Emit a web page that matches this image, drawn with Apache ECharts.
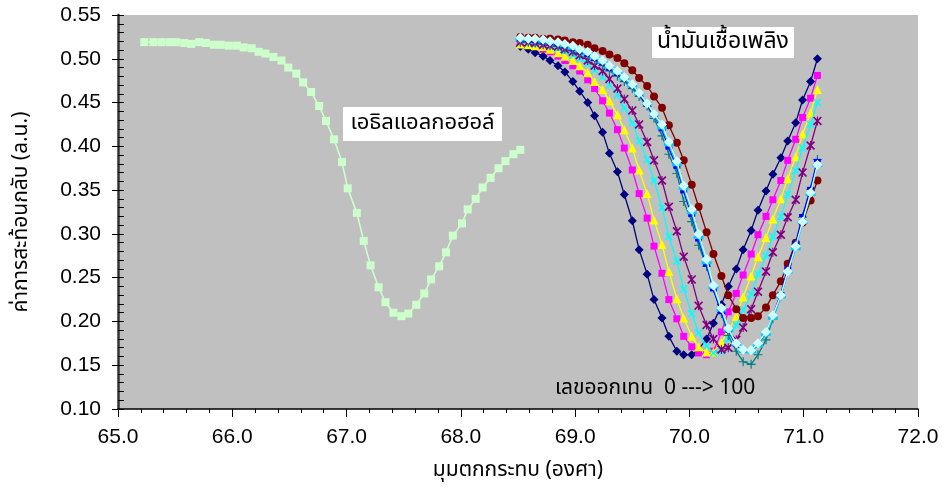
<!DOCTYPE html>
<html>
<head>
<meta charset="utf-8">
<script src="https://cdn.jsdelivr.net/npm/echarts@6/dist/echarts.min.js"></script>
<style>
  html, body { margin: 0; padding: 0; background: #fff; }
  #chart { width: 944px; height: 490px; }
</style>
</head>
<body>
<div id="chart"></div>
<script>
// Ethyl alcohol reflectance curve (angle in degrees, reflectance a.u.)
const ethanolAngle = [65.23,65.31,65.38,65.45,65.51,65.58,65.64,65.71,65.77,65.84,65.90,65.97,66.04,66.10,66.17,66.23,66.29,66.36,66.43,66.49,66.56,66.62,66.69,66.76,66.82,66.89,66.96,67.01,67.09,67.15,67.21,67.28,67.34,67.41,67.48,67.54,67.61,67.68,67.74,67.81,67.87,67.93,68.01,68.06,68.13,68.19,68.26,68.33,68.39,68.46,68.52];
const ethanolRefl = [0.519,0.519,0.519,0.519,0.519,0.518,0.517,0.519,0.518,0.516,0.516,0.515,0.515,0.513,0.512,0.508,0.506,0.502,0.498,0.490,0.483,0.473,0.462,0.446,0.429,0.408,0.382,0.352,0.324,0.292,0.264,0.239,0.222,0.210,0.206,0.209,0.219,0.232,0.248,0.263,0.279,0.298,0.312,0.328,0.340,0.353,0.364,0.375,0.383,0.391,0.396];

// Fuel samples, all measured on the same angle grid
const fuelAngle = [68.52,68.59,68.65,68.72,68.78,68.85,68.91,68.98,69.04,69.11,69.17,69.24,69.30,69.37,69.43,69.50,69.56,69.63,69.69,69.76,69.82,69.89,69.95,70.02,70.08,70.15,70.21,70.28,70.34,70.41,70.47,70.54,70.60,70.67,70.73,70.80,70.86,70.93,70.99,71.06,71.12];
const fuel1 = [0.514,0.511,0.507,0.503,0.498,0.492,0.485,0.474,0.463,0.450,0.435,0.416,0.392,0.371,0.345,0.315,0.282,0.254,0.225,0.204,0.183,0.166,0.162,0.162,0.168,0.180,0.198,0.219,0.240,0.260,0.282,0.304,0.327,0.349,0.368,0.387,0.406,0.427,0.453,0.474,0.500];
const fuel2 = [0.518,0.516,0.514,0.511,0.508,0.503,0.498,0.492,0.486,0.476,0.466,0.452,0.438,0.419,0.398,0.373,0.346,0.318,0.286,0.255,0.225,0.203,0.183,0.171,0.164,0.162,0.166,0.188,0.211,0.232,0.253,0.277,0.299,0.320,0.339,0.361,0.384,0.408,0.433,0.455,0.481];
const fuel3 = [0.517,0.516,0.515,0.514,0.511,0.507,0.503,0.498,0.492,0.484,0.474,0.465,0.452,0.436,0.419,0.398,0.373,0.346,0.316,0.288,0.257,0.226,0.204,0.183,0.171,0.165,0.165,0.176,0.189,0.206,0.228,0.252,0.274,0.296,0.317,0.340,0.363,0.388,0.414,0.438,0.465];
const fuel4 = [0.519,0.518,0.517,0.516,0.514,0.512,0.509,0.504,0.500,0.494,0.487,0.479,0.470,0.459,0.444,0.427,0.406,0.385,0.361,0.330,0.297,0.269,0.237,0.209,0.187,0.172,0.164,0.166,0.180,0.196,0.213,0.231,0.254,0.275,0.297,0.320,0.345,0.372,0.398,0.425,0.450];
const fuel5 = [0.519,0.519,0.518,0.516,0.515,0.514,0.511,0.508,0.504,0.498,0.492,0.486,0.477,0.466,0.454,0.441,0.425,0.405,0.384,0.361,0.331,0.303,0.274,0.248,0.218,0.196,0.180,0.168,0.170,0.179,0.193,0.214,0.234,0.257,0.279,0.299,0.319,0.339,0.370,0.401,0.429];
const fuel6 = [0.525,0.524,0.524,0.523,0.523,0.522,0.521,0.519,0.518,0.516,0.512,0.509,0.505,0.501,0.495,0.487,0.478,0.469,0.457,0.444,0.424,0.404,0.384,0.356,0.331,0.302,0.277,0.252,0.230,0.214,0.204,0.204,0.206,0.216,0.230,0.246,0.266,0.290,0.313,0.338,0.361];
const fuel7 = [0.520,0.520,0.519,0.518,0.517,0.515,0.513,0.510,0.507,0.502,0.498,0.492,0.486,0.480,0.474,0.466,0.457,0.446,0.432,0.412,0.391,0.369,0.337,0.314,0.287,0.263,0.238,0.209,0.184,0.166,0.154,0.151,0.162,0.179,0.203,0.229,0.257,0.288,0.319,0.351,0.385];
const fuel8 = [0.522,0.521,0.520,0.519,0.518,0.516,0.514,0.511,0.508,0.504,0.499,0.494,0.488,0.482,0.476,0.468,0.459,0.447,0.435,0.419,0.398,0.376,0.348,0.321,0.293,0.264,0.236,0.210,0.189,0.173,0.166,0.166,0.173,0.187,0.207,0.232,0.261,0.290,0.321,0.352,0.384];
const fuel9 = [0.523,0.522,0.522,0.520,0.519,0.518,0.515,0.512,0.509,0.506,0.501,0.496,0.490,0.484,0.477,0.469,0.460,0.449,0.436,0.421,0.402,0.379,0.352,0.324,0.296,0.267,0.239,0.213,0.190,0.174,0.166,0.165,0.172,0.185,0.204,0.228,0.256,0.283,0.313,0.345,0.378];
const fuel10 = [0.524,0.523,0.523,0.522,0.520,0.519,0.517,0.515,0.511,0.508,0.503,0.498,0.492,0.486,0.479,0.471,0.461,0.449,0.437,0.425,0.405,0.383,0.355,0.328,0.300,0.271,0.241,0.215,0.192,0.175,0.168,0.167,0.175,0.188,0.207,0.230,0.257,0.286,0.314,0.347,0.379];

const xTicks = { min: 65, max: 72, step: 1 };
const yTicks = { min: 0.10, max: 0.55, step: 0.05 };

// marker glyphs
const X_MARK = 'path://M0,1.3L1.3,0L5,3.7L8.7,0L10,1.3L6.3,5L10,8.7L8.7,10L5,6.3L1.3,10L0,8.7L3.7,5Z';
const PLUS_MARK = 'path://M4.35,0H5.65V4.35H10V5.65H5.65V10H4.35V5.65H0V4.35H4.35Z';
const STAR_MARK = 'path://M0,1.3L1.3,0L5,3.7L8.7,0L10,1.3L6.3,5L10,8.7L8.7,10L5,6.3L1.3,10L0,8.7L3.7,5Z M4.4,0L5.6,0L5.6,10L4.4,10Z';

const fuelStyles = [
  { data: fuel1, color: '#000080', symbol: 'diamond', size: 9 },
  { data: fuel2, color: '#FF00FF', symbol: 'rect', size: 7 },
  { data: fuel3, color: '#FFFF00', symbol: 'triangle', size: 9 },
  { data: fuel4, color: '#00FFFF', symbol: X_MARK, size: 8 },
  { data: fuel5, color: '#800080', symbol: STAR_MARK, size: 9 },
  { data: fuel6, color: '#800000', symbol: 'circle', size: 8 },
  { data: fuel7, color: '#008080', symbol: PLUS_MARK, size: 9 },
  { data: fuel8, color: '#0000FF', symbol: 'rect', size: [7, 3] },
  { data: fuel9, color: '#00CCFF', symbol: 'rect', size: [10, 3] },
  { data: fuel10, color: '#CCFFFF', symbol: 'diamond', size: 10 }
];

const pairs = (xs, ys) => xs.map((x, i) => [x, ys[i]]);

const series = fuelStyles.map((s, k) => ({
  name: 'fuel ' + (k + 1),
  type: 'line',
  data: pairs(fuelAngle, s.data),
  symbol: s.symbol,
  symbolSize: s.size,
  showAllSymbol: true,
  lineStyle: { color: s.color, width: 1.3 },
  itemStyle: { color: s.color, borderWidth: 0 },
  emphasis: { disabled: true },
  z: 3 + k
}));

series.unshift({
  name: 'ethanol',
  type: 'line',
  data: pairs(ethanolAngle, ethanolRefl),
  symbol: 'rect',
  symbolSize: [8, 8],
  showAllSymbol: true,
  lineStyle: { color: '#CCFFCC', width: 1.6 },
  itemStyle: { color: '#CCFFCC', borderWidth: 0 },
  emphasis: { disabled: true },
  z: 2
});

const NUM_FONT = "'Liberation Sans', Arial, sans-serif";
const THAI_FONT = "'Noto Sans Thai', 'Loma', 'Tahoma', 'DejaVu Sans', sans-serif";

const chart = echarts.init(document.getElementById('chart'), null, { renderer: 'canvas' });
chart.setOption({
  animation: false,
  backgroundColor: '#ffffff',
  grid: {
    left: 118, right: 26, top: 15, bottom: 81,
    show: true, backgroundColor: '#C0C0C0', borderWidth: 0
  },
  xAxis: {
    type: 'value',
    min: xTicks.min, max: xTicks.max, interval: xTicks.step,
    name: 'มุมตกกระทบ (องศา)',
    nameLocation: 'middle',
    nameGap: 52,
    nameTextStyle: { fontSize: 21, color: '#000', fontFamily: THAI_FONT },
    axisLine: { show: true, onZero: false, lineStyle: { color: '#000', width: 1.5 } },
    axisTick: { show: true, inside: false, length: 8, lineStyle: { color: '#000', width: 1 } },
    minorTick: { show: true, splitNumber: 5, length: 4, lineStyle: { color: '#000', width: 1 } },
    axisLabel: { margin: 18, fontSize: 21, color: '#000', fontFamily: NUM_FONT,
      formatter: v => v.toFixed(1) },
    splitLine: { show: false }
  },
  yAxis: [{
    type: 'value',
    min: yTicks.min, max: yTicks.max, interval: yTicks.step,
    name: 'ค่าการสะท้อนกลับ (a.u.)',
    nameLocation: 'middle',
    nameRotate: 90,
    nameGap: 85,
    nameTextStyle: { fontSize: 21, color: '#000', fontFamily: THAI_FONT },
    axisLine: { show: true, onZero: false, lineStyle: { color: '#333', width: 2.5 } },
    axisTick: { show: true, inside: true, length: 6, lineStyle: { color: '#000', width: 1 } },
    minorTick: { show: true, splitNumber: 5, length: 6, lineStyle: { color: '#000', width: 1 } },
    axisLabel: { margin: 17, fontSize: 21, color: '#000', fontFamily: NUM_FONT,
      formatter: v => v.toFixed(2) },
    splitLine: { show: false }
  }, {
    // outer half of the major ticks
    type: 'value', position: 'left',
    min: yTicks.min, max: yTicks.max, interval: yTicks.step,
    axisLine: { show: false },
    axisTick: { show: true, inside: false, length: 6, lineStyle: { color: '#000', width: 1 } },
    axisLabel: { show: false },
    splitLine: { show: false }
  }],
  series: series,
  graphic: [
    { type: 'rect', shape: { x: 343, y: 107, width: 159, height: 34 }, style: { fill: '#fff' }, z: 20 },
    { type: 'text', x: 422.5, y: 124.5, z: 21,
      style: { text: 'เอธิลแอลกอฮอล์', fill: '#000', font: "22px " + THAI_FONT, align: 'center', verticalAlign: 'middle' } },
    { type: 'rect', shape: { x: 652, y: 27, width: 142, height: 31 }, style: { fill: '#fff' }, z: 20 },
    { type: 'text', x: 723, y: 43, z: 21,
      style: { text: 'น้ำมันเชื้อเพลิง', fill: '#000', font: "23px " + THAI_FONT, align: 'center', verticalAlign: 'middle' } },
    { type: 'text', x: 555, y: 390, z: 21,
      style: { text: 'เลขออกเทน  0 ---> 100', fill: '#000', font: "21px " + THAI_FONT, align: 'left', verticalAlign: 'middle' } }
  ]
});
</script>
</body>
</html>
